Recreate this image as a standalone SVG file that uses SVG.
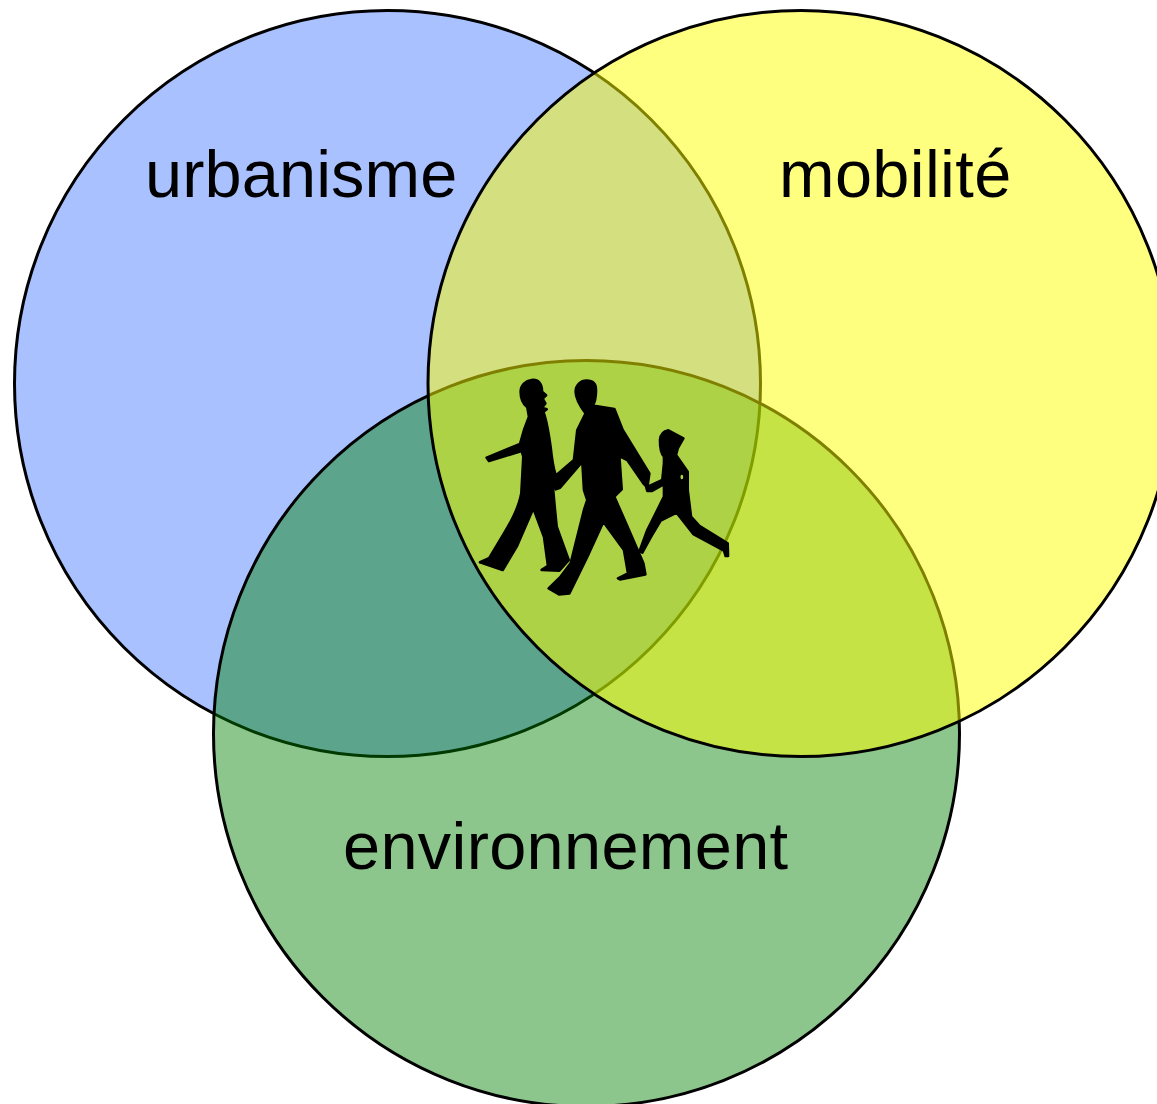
<svg xmlns="http://www.w3.org/2000/svg" width="1157" height="1104" viewBox="0 0 1157 1104">
<style>
.c{stroke:#000;stroke-width:3}
.t{font-family:"Liberation Sans",Arial,sans-serif;font-size:66.7px;fill:#000}
.s{fill:#000;fill-rule:evenodd;stroke:#000;stroke-width:8;stroke-linejoin:round}
</style>
<defs><filter id="soft" x="-5%" y="-5%" width="110%" height="110%"><feGaussianBlur stdDeviation="1.8"/></filter></defs>
<rect width="1157" height="1104" fill="#fff"/>
<g id="urbanisme"><circle class="c" cx="387.5" cy="383.5" r="373" fill="#a9c1ff"/></g>
<g id="environnement"><circle class="c" cx="586.5" cy="733.5" r="373" fill="#008000" fill-opacity=".45"/></g>
<g id="mobilite"><circle class="c" cx="801" cy="383.5" r="373" fill="#ffff00" fill-opacity=".5"/></g>
<g id="labels">
<text class="t" x="145" y="196.5" letter-spacing=".12">urbanisme</text>
<text class="t" x="779" y="196.5" letter-spacing=".35">mobilité</text>
<text class="t" x="343" y="868.5" letter-spacing=".33">environnement</text>
</g>
<g id="walkers" transform="translate(460 360) scale(.33333)" filter="url(#soft)">
<path class="s" d="M215 60C236 58 246 72 246 95L258 106L248 116L256 130L246 143L260 148L250 156C260 180 266 220 272 262C276 300 280 325 286 342L303 347L278 372L284 440L290 500L326 600L298 632L245 630L264 618L252 530L220 445L170 560L128 630L60 607L87 595L132 520C157 480 177 440 184 400L190 290L185 273L87 303L80 293L180 252L192 210L207 170L202 142C187 130 182 115 182 95C182 75 197 62 215 60Z"/>
<path class="s" d="M380 62C398 62 408 72 408 90C408 105 408 122 398 137L463 147L488 210L568 340L563 375L570 391L550 370L502 300L478 288L485 388L463 410L498 490L550 610L556 643L480 658L474 655L504 640L492 570L430 485L382 590L328 700L297 703L266 685L302 650L332 610L372 450L382 420L372 390L367 305L300 383L287 388L279 360L287 347L342 300L352 210L377 160C362 140 347 115 347 95C347 75 362 62 380 62Z"/>
<path class="s" d="M625 211L670 235L653 265L648 285L683 335L683 390L693 470L718 498L803 550L804 588L797 588L792 572L700 522L650 458L602 482L572 532L547 578L539 573L562 510L592 450L612 410L612 372L575 393L562 393L559 382L570 377L607 360L612 310L612 290C602 280 600 265 600 240C602 222 612 213 625 211ZM665 340A8 11 0 1 0 666 362A8 11 0 1 0 665 340Z"/>
</g>
</svg>
